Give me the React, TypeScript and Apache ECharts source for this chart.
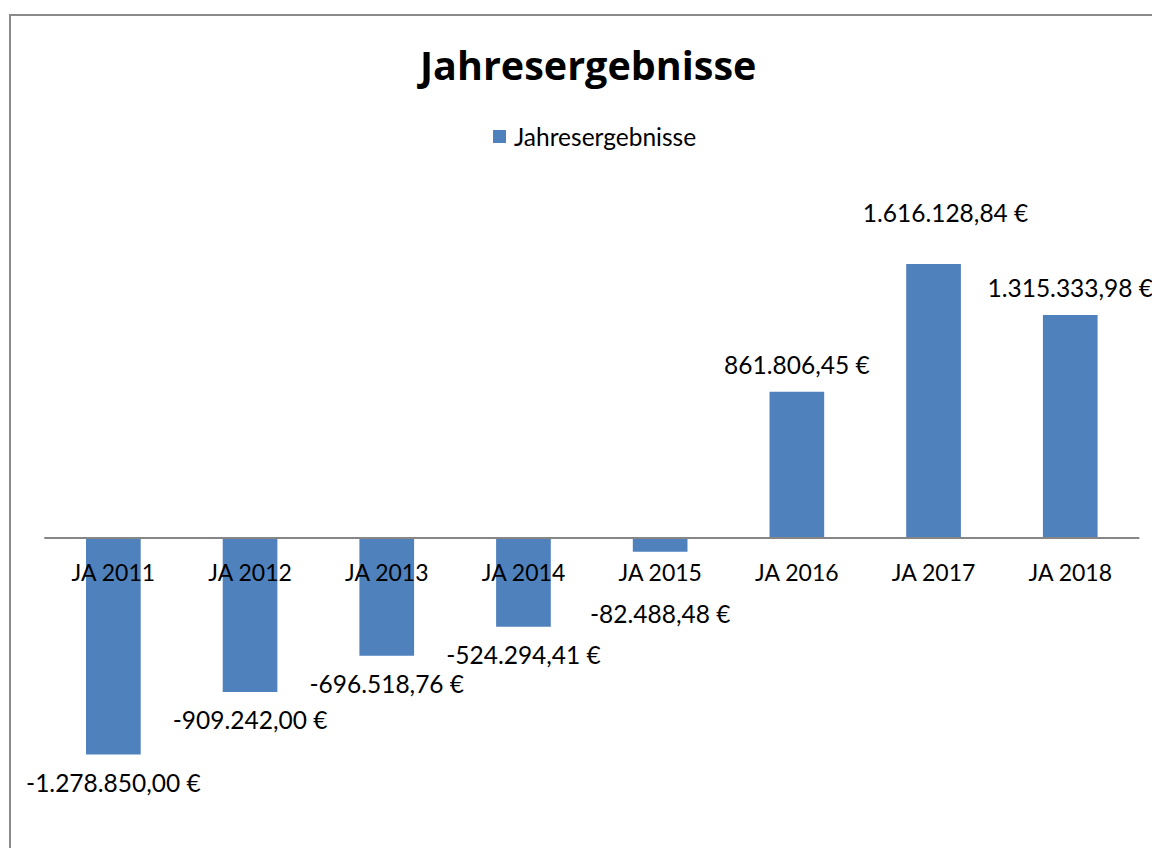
import React, { useEffect, useRef } from "react";
import * as echarts from "echarts";

const categories = ["JA 2011", "JA 2012", "JA 2013", "JA 2014", "JA 2015", "JA 2016", "JA 2017", "JA 2018"];
const values = [-1278850.0, -909242.0, -696518.76, -524294.41, -82488.48, 861806.45, 1616128.84, 1315333.98];
// per-label nudges (style only): [dx, dy]
const labelNudges: [number, number][] = [
  [0, 0], [0, 0], [0, 0], [0, 0], [0, 34], [0, 0], [12, -24], [0, 0],
];

const FONT = "Lato";

function formatEuro(v: number): string {
  const neg = v < 0;
  const abs = Math.abs(v);
  const fixed = abs.toFixed(2);
  const [intPart, dec] = fixed.split(".");
  const withSep = intPart.replace(/\B(?=(\d{3})+(?!\d))/g, ".");
  return (neg ? "-" : "") + withSep + "," + dec + " €";
}

export default function App() {
  const ref = useRef<HTMLDivElement>(null);
  useEffect(() => {
    if (!ref.current) return;
    const chart = echarts.init(ref.current, null, { renderer: "svg" });
    const data = values.map((v, i) => ({
      value: v,
      label: {
        position: v < 0 ? "bottom" : "top",
        offset: labelNudges[i],
      },
    }));
    chart.setOption({
      animation: false,
      backgroundColor: "#ffffff",
      title: {
        text: "Jahresergebnisse",
        left: 415,
        top: 40,
        textStyle: { fontFamily: "Open Sans", fontWeight: "bold", fontSize: 39.5, color: "#000" },
      },
      legend: {
        top: 119,
        left: 488,
        itemWidth: 13,
        itemHeight: 13,
        icon: "rect",
        data: ["Jahresergebnisse"],
        textStyle: { fontFamily: FONT, fontSize: 24.5, color: "#000", padding: [0, 0, 0, 3] },
      },
      graphic: [
        {
          type: "rect",
          shape: { x: 10, y: 15, width: 1200, height: 900 },
          style: { fill: "none", stroke: "#8a8a8a", lineWidth: 2 },
          silent: true,
        },
      ],
      grid: { left: 45, right: 13.4, top: 199, bottom: 56, containLabel: false },
      xAxis: {
        type: "category",
        data: categories,
        z: 10,
        axisLine: { onZero: true, lineStyle: { color: "#868686", width: 2 } },
        axisTick: { show: false },
        axisLabel: { fontFamily: FONT, fontSize: 23, color: "#000", margin: -232, interval: 0 },
      },
      yAxis: {
        type: "value",
        min: -1500000,
        max: 2000000,
        show: false,
        splitLine: { show: false },
      },
      series: [
        {
          name: "Jahresergebnisse",
          type: "bar",
          data,
          barWidth: "40%",
          itemStyle: { color: "#4F81BD" },
          label: {
            show: true,
            distance: 15,
            fontFamily: FONT,
            fontSize: 24.5,
            color: "#000",
            formatter: (p: any) => formatEuro(p.value),
          },
        },
      ],
    });
    return () => chart.dispose();
  }, []);
  return (
    <div
      ref={ref}
      style={{ position: "fixed", left: 0, top: 0, width: 1152, height: 848 }}
    />
  );
}
